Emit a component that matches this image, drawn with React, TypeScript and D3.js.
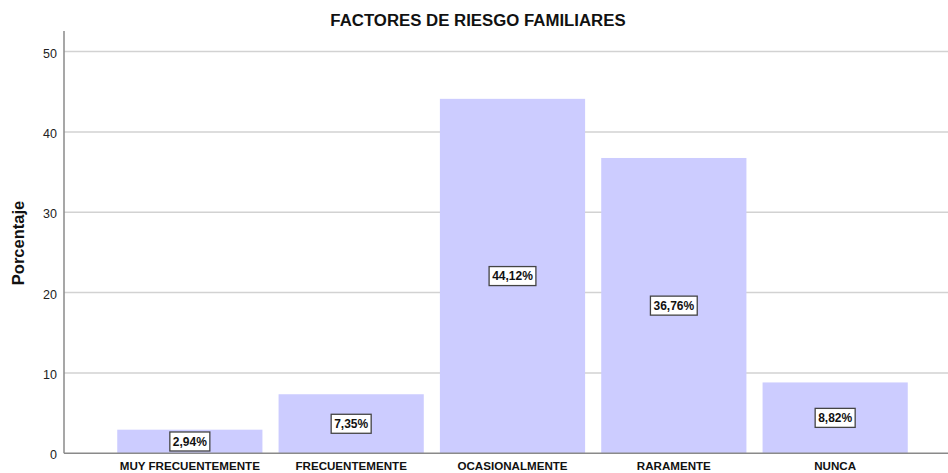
import React from "react";
import { scaleBand, scaleLinear } from "d3";

const categories = ["MUY FRECUENTEMENTE", "FRECUENTEMENTE", "OCASIONALMENTE", "RARAMENTE", "NUNCA"];
const percentages = [2.94, 7.35, 44.12, 36.76, 8.82];
const valueLabels = ["2,94%", "7,35%", "44,12%", "36,76%", "8,82%"];
const yTicks = [0, 10, 20, 30, 40, 50];

const W = 948;
const H = 473;
const axisX = 64;
const baseY = 453.3;

function App() {
  const x = scaleBand<string>()
    .domain(categories)
    .range([axisX, 961])
    .paddingInner(0.1)
    .paddingOuter(0.33);

  // 50 sits at ~51.5px, 0 at ~453px
  const y = scaleLinear().domain([0, 50]).range([baseY, 51.6]);

  const boxH = 19;

  return (
    <div style={{ position: "absolute", left: 0, top: 0 }}>
      <svg width={W} height={H} style={{ display: "block", fontFamily: "Arial, 'Liberation Sans', sans-serif" }}>
        <rect width={W} height={H} fill="#fff" />
        <text x={478} y={26} textAnchor="middle" fontSize={16.8} fontWeight="bold" fill="#111">
          FACTORES DE RIESGO FAMILIARES
        </text>

        {/* grid */}
        {yTicks.filter((t) => t > 0).map((t) => (
          <line key={t} x1={axisX} x2={W} y1={y(t)} y2={y(t)} stroke="#d2d2d2" strokeWidth={1.5} />
        ))}

        {/* bars */}
        {categories.map((c, i) => (
          <rect
            key={c}
            x={x(c)}
            y={y(percentages[i])}
            width={x.bandwidth()}
            height={baseY - y(percentages[i])}
            fill="#ccccff"
          />
        ))}

        {/* axes */}
        <line x1={axisX} x2={W} y1={baseY} y2={baseY} stroke="#8a8a8a" strokeWidth={1.5} />
        <line x1={axisX} x2={axisX} y1={31} y2={baseY} stroke="#8a8a8a" strokeWidth={1.5} />

        {yTicks.map((t) => (
          <text key={t} x={57} y={y(t)} dy={6} textAnchor="end" fontSize={12.5} fill="#222">
            {t}
          </text>
        ))}

        <text
          transform={`translate(24,243) rotate(-90)`}
          textAnchor="middle"
          fontSize={16.5}
          fontWeight="bold"
          fill="#111"
        >
          Porcentaje
        </text>

        {categories.map((c) => (
          <text key={c} x={(x(c) ?? 0) + x.bandwidth() / 2} y={470} textAnchor="middle" fontSize={11.6} fontWeight="bold" fill="#111">
            {c}
          </text>
        ))}

        {/* value labels */}
        {categories.map((c, i) => {
          const cx = (x(c) ?? 0) + x.bandwidth() / 2;
          const mid = (y(percentages[i]) + baseY) / 2;
          const cy = Math.min(mid, baseY - boxH / 2 - 0.5);
          const w = valueLabels[i].length * 6.8 + 6;
          return (
            <g key={c}>
              <rect x={cx - w / 2} y={cy - boxH / 2} width={w} height={boxH} fill="#fff" stroke="#444" strokeWidth={1.3} />
              <text x={cx} y={cy} dy={4.3} textAnchor="middle" fontSize={12} fontWeight="bold" fill="#111">
                {valueLabels[i]}
              </text>
            </g>
          );
        })}
      </svg>
    </div>
  );
}

export default App;
